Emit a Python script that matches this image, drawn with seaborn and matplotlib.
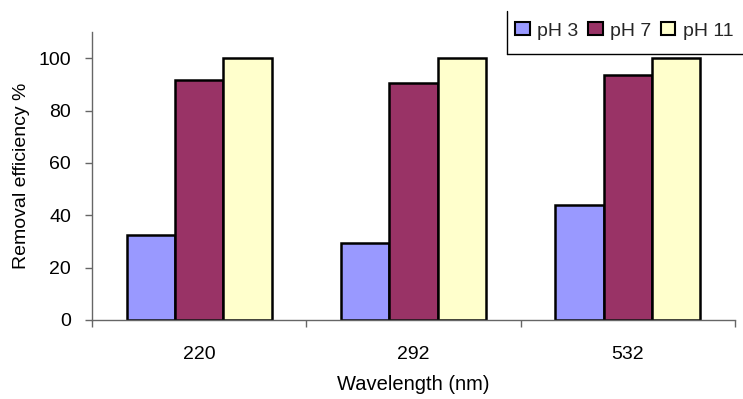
import matplotlib
matplotlib.use("Agg")
import matplotlib.pyplot as plt
import seaborn as sns
import pandas as pd
from matplotlib.ticker import FixedLocator
from matplotlib.lines import Line2D

wavelengths = ["220", "292", "532"]
ph_levels = ["pH 3", "pH 7", "pH 11"]
ph3 = [32.4, 29.5, 43.9]
ph7 = [91.5, 90.7, 93.4]
ph11 = [100, 100, 100]
colors = ["#9999FF", "#993366", "#FFFFCC"]

df = pd.DataFrame({
    "Wavelength": wavelengths * 3,
    "pH": [ph_levels[0]] * 3 + [ph_levels[1]] * 3 + [ph_levels[2]] * 3,
    "Removal": ph3 + ph7 + ph11,
})

sns.set_theme(style="white")
plt.rcParams["font.family"] = ["Liberation Sans", "DejaVu Sans"]

W, H = 743, 399
fig = plt.figure(figsize=(W / 100, H / 100), dpi=100)
ax = fig.add_axes([92 / W, 1 - 320 / H, (735 - 92) / W, (320 - 32) / H])

sns.barplot(data=df, x="Wavelength", y="Removal", hue="pH", order=wavelengths,
            hue_order=ph_levels, palette=colors, saturation=1, width=0.675, gap=0,
            edgecolor="black", linewidth=1.8, ax=ax, legend=True)

ax.set_xlim(-0.5, 2.5)
ax.set_ylim(0, 110)
ax.set_yticks([0, 20, 40, 60, 80, 100])
ax.xaxis.set_minor_locator(FixedLocator([-0.5, 0.5, 1.5, 2.5]))
ax.tick_params(axis="x", which="major", length=0, labelsize=14, pad=19, colors="black")
ax.tick_params(axis="x", which="minor", length=5, width=1, color="#666666", direction="out", bottom=True)
ax.tick_params(axis="y", length=5, width=1, color="#666666", direction="out", left=True,
               labelsize=14, pad=10, labelcolor="black")

for s in ["top", "right"]:
    ax.spines[s].set_visible(False)
for s in ["left", "bottom"]:
    ax.spines[s].set_color("#666666")
    ax.spines[s].set_linewidth(1.0)

ax.set_xlabel("Wavelength (nm)", fontsize=14.5, labelpad=8, color="black")
ax.set_ylabel("Removal efficiency %", fontsize=14, labelpad=6, color="black")

leg = ax.legend(loc="center left", bbox_to_anchor=(515 / W, 1 - 31 / H), bbox_transform=fig.transFigure,
                ncol=3, frameon=False, fontsize=14, handlelength=0.75,
                handleheight=0.65, handletextpad=0.38, columnspacing=0.5, borderpad=0,
                borderaxespad=0)
for h in leg.legend_handles:
    h.set_edgecolor("black")
    h.set_linewidth(1.5)

# partial legend frame (left and bottom edges, the rest runs off the figure)
fig.add_artist(Line2D([507 / W, 507 / W], [1 - 54 / H, 1 - 11 / H], transform=fig.transFigure,
                      color="black", linewidth=1.0))
fig.add_artist(Line2D([507 / W, 1.0], [1 - 54 / H, 1 - 54 / H], transform=fig.transFigure,
                      color="black", linewidth=1.0))

fig.savefig("out.png", dpi=100)
